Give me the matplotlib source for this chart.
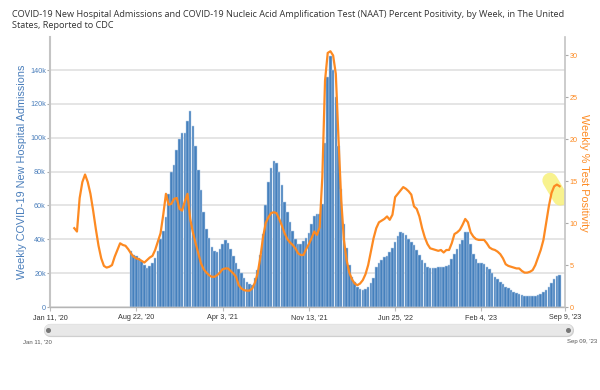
import pandas as pd
import matplotlib
matplotlib.use('Agg')
import matplotlib.pyplot as plt
from matplotlib.lines import Line2D

W, H = 600, 390

# weekly grid (week ending dates)
week_dates = pd.date_range('2020-01-11', '2023-09-09', freq='7D')

# weekly new hospital admissions, in thousands (weeks 30..189 of the grid)
adm_first_week = 30
admissions_k = [
    33, 31, 30, 29, 27, 25, 23, 24, 26, 29,
    33, 40, 45, 53, 67, 80, 84, 93, 99, 103,
    103, 110, 116, 107, 95, 81, 69, 56, 46, 40.5,
    35.6, 33, 32.5, 34.5, 37, 39.5, 38, 34, 30, 26,
    22.5, 20, 17, 15, 13.5, 13, 17, 22, 31, 43,
    60, 74, 82, 86, 85, 80, 72, 62, 56, 50,
    45, 40, 37, 37, 39, 41, 44, 49, 54, 55,
    55, 61, 97, 136, 148, 140, 124, 95, 70, 49,
    35, 25, 18, 14.5, 12, 10.5, 10, 10.5, 12, 14,
    17, 23.5, 26, 27.7, 29.3, 30, 32.6, 35, 38.5, 41.8,
    44.3, 43.7, 42.4, 40.4, 38.5, 36.5, 33.6, 30.7, 28, 25.8,
    23.8, 23.2, 22.8, 23.2, 23.4, 23.6, 23.8, 24.2, 24.8, 28.5,
    31.5, 34.5, 37.5, 39.5, 44.3, 44.3, 37.4, 31.5, 28.6, 26,
    26, 25.3, 23.8, 22.2, 20, 17.5, 16.4, 15, 13.6, 12,
    11, 10, 9, 8.4, 7.6, 7, 6.6, 6.4, 6.4, 6.4,
    6.4, 6.8, 7.6, 8.8, 10, 11.6, 14.4, 16.4, 18.4, 19,
]

# weekly NAAT percent positivity (weeks 9..189 of the grid)
pos_first_week = 9
positivity = [
    9.4, 9.0, 13.0, 14.9, 15.8, 14.9, 13.5, 11.5, 9.3, 7.3,
    5.8, 4.9, 4.7, 4.8, 5.0, 6.0, 6.8, 7.6, 7.4, 7.3,
    6.9, 6.4, 6.0, 5.8, 5.7, 5.5, 5.3, 5.6, 5.9, 6.1,
    6.8, 7.8, 8.8, 11.0, 13.5, 12.2, 12.3, 12.9, 13.0, 11.7,
    11.5, 12.6, 13.5, 10.5, 8.9, 7.6, 6.4, 5.2, 4.5, 4.1,
    3.8, 3.6, 3.6, 3.8, 4.1, 4.5, 4.6, 4.6, 4.3, 4.0,
    3.6, 2.6, 2.2, 2.0, 1.95, 1.95, 2.2, 2.9, 4.0, 5.9,
    8.3, 10.0, 10.7, 11.2, 11.3, 11.2, 10.5, 9.7, 8.8, 8.1,
    7.7, 7.4, 7.0, 6.4, 6.2, 6.2, 6.9, 7.5, 8.2, 9.0,
    8.6, 9.5, 15.5, 27.0, 30.3, 30.5, 30.0, 27.8, 20.0, 12.8,
    8.0, 5.6, 4.1, 3.3, 2.8, 2.6, 2.8, 3.2, 3.9, 5.0,
    6.6, 8.2, 9.4, 10.1, 10.3, 10.5, 10.8, 10.4, 11.0, 13.1,
    13.5, 13.9, 14.3, 14.1, 13.8, 13.4, 12.0, 11.7, 10.8, 9.4,
    8.3, 7.5, 7.0, 6.9, 6.8, 6.7, 6.8, 6.5, 6.8, 6.8,
    7.6, 8.7, 8.9, 9.2, 9.8, 10.5, 10.1, 8.9, 8.4, 8.1,
    8.0, 8.0, 8.0, 7.6, 7.1, 6.9, 6.8, 6.6, 6.3, 5.8,
    5.1, 4.9, 4.8, 4.7, 4.6, 4.6, 4.3, 4.1, 4.1, 4.2,
    4.4, 5.0, 5.9, 6.8, 8.0, 10.0, 12.0, 13.6, 14.4, 14.6, 14.4,
]

tick_dates = ['2020-01-11', '2020-08-22', '2021-04-03', '2021-11-13',
              '2022-06-25', '2023-02-04', '2023-09-09']
tick_labels = ["Jan 11, '20", "Aug 22, '20", "Apr 3, '21", "Nov 13, '21",
               "Jun 25, '22", "Feb 4, '23", "Sep 9, '23"]
adm_ticks = [0, 20000, 40000, 60000, 80000, 100000, 120000, 140000]
adm_tick_labels = ['0', '20k', '40k', '60k', '80k', '100k', '120k', '140k']
pos_ticks = [0, 5, 10, 15, 20, 25, 30]

# yellow marker on the latest values
highlight_dates = ['2023-08-01', '2023-08-28']
highlight_pct = [15.1, 13.0]

title = ("COVID-19 New Hospital Admissions and COVID-19 Nucleic Acid Amplification Test "
         "(NAAT) Percent Positivity, by Week, in The United\nStates, Reported to CDC")
left_label = 'Weekly COVID-19 New Hospital Admissions'
right_label = 'Weekly % Test Positivity'
nav_labels = ["Jan 11, '20", "Sep 09, '23"]

BLUE_BAR = '#4580bd'
BLUE_TXT = '#4a7ebb'
ORANGE = '#fd8a22'

plt.rcParams['font.family'] = ['Liberation Sans', 'DejaVu Sans']

adm_dates = week_dates[adm_first_week:adm_first_week + len(admissions_k)]
pos_dates = week_dates[pos_first_week:pos_first_week + len(positivity)]
admissions = [v * 1000 for v in admissions_k]

fig = plt.figure(figsize=(W / 100, H / 100), dpi=100)
ax = fig.add_axes([50 / W, 1 - 307 / H, 515 / W, 270 / H])
ax2 = ax.twinx()

ax.bar(adm_dates, admissions, width=6.6, color=BLUE_BAR, edgecolor='#b9d0ea',
       linewidth=0.35, zorder=2)
ax.set_ylim(0, 159500)
ax.set_xlim(week_dates[0], week_dates[-1])
ax.set_axisbelow(True)
ax.yaxis.grid(True, color='#e3e3e3', linewidth=1.3)

ax2.plot(pd.to_datetime(highlight_dates), highlight_pct, color='#f7ef72', alpha=0.8,
         linewidth=11, solid_capstyle='round', zorder=1)
ax2.plot(pos_dates, positivity, color=ORANGE, linewidth=1.6, solid_joinstyle='round', zorder=3)
ax2.set_ylim(0, 32.2)

for s in ['top', 'right']:
    ax.spines[s].set_visible(False)
for s in ['top', 'left', 'bottom']:
    ax2.spines[s].set_visible(False)
ax.spines['left'].set_color('#c4c4c4')
ax.spines['left'].set_linewidth(1.5)
ax.spines['bottom'].set_color('#b5b5b5')
ax.spines['bottom'].set_linewidth(1.0)
ax2.spines['right'].set_color('#c4c4c4')
ax2.spines['right'].set_linewidth(1.2)

ax.set_yticks(adm_ticks)
ax.set_yticklabels(adm_tick_labels)
ax.tick_params(axis='y', length=2, width=0.8, color='#aaaaaa', pad=1,
               labelsize=5.2, labelcolor=BLUE_TXT)
ax2.set_yticks(pos_ticks)
ax2.tick_params(axis='y', length=2, width=0.8, color='#aaaaaa', pad=1.5,
                labelsize=5.2, labelcolor=ORANGE)
ax.set_xticks(pd.to_datetime(tick_dates))
ax.set_xticklabels(tick_labels)
ax.tick_params(axis='x', length=3, width=0.8, color='#bbbbbb', pad=2,
               labelsize=5.2, labelcolor='#333333')

fig.text(22 / W, 1 - 172 / H, left_label, rotation=90, ha='center', va='center',
         fontsize=7.8, color=BLUE_TXT)
fig.text(584 / W, 1 - 173 / H, right_label, rotation=270, ha='center', va='center',
         fontsize=7.8, color=ORANGE)

fig.text(12 / W, 1 - 10 / H, title, ha='left', va='top', fontsize=6.55,
         family='Open Sans', color='#333333', linespacing=1.25)

# navigator bar below the chart
ny = 1 - 330 / H
fig.add_artist(Line2D([50 / W, 567 / W], [ny, ny], transform=fig.transFigure,
                      linewidth=9.5, color='#cfcfcf', solid_capstyle='round'))
fig.add_artist(Line2D([50 / W, 567 / W], [ny, ny], transform=fig.transFigure,
                      linewidth=8.4, color='#e8e8e8', solid_capstyle='round'))
for hx in [48, 568]:
    fig.add_artist(Line2D([hx / W], [ny], transform=fig.transFigure, marker='o',
                          markersize=2.6, color='#777777', linestyle='none'))
fig.text(37 / W, 1 - 342 / H, nav_labels[0], ha='center', va='center', fontsize=4.3, color='#555555')
fig.text(582 / W, 1 - 342 / H, nav_labels[1], ha='center', va='center', fontsize=4.3, color='#555555')

fig.savefig('out.png', dpi=100)
